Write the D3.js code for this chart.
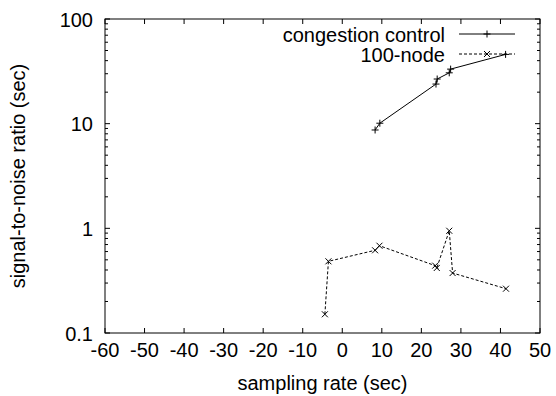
<!DOCTYPE html>
<html>
<head>
<meta charset="utf-8">
<script src="https://cdn.jsdelivr.net/npm/d3@7"></script>
<style>
  body { margin: 0; background: #fff; }
  text { font-family: "Liberation Sans", Arial, Helvetica, sans-serif; fill: #000; font-size: 20px; }
</style>
</head>
<body>
<div id="content"></div>
<script>
'use strict';

// series
var ccX = [8.3, 9.5, 23.7, 24.0, 27.05, 27.4, 41.3]
var ccY = [8.7, 10.1, 23.9, 26.7, 30.6, 33.2, 45.9]
var nodeX = [-4.4, -3.5, 8.3, 9.4, 23.5, 23.9, 27.05, 27.9, 41.4]
var nodeY = [0.151, 0.484, 0.617, 0.682, 0.44, 0.418, 0.948, 0.374, 0.265]
var seriesNames = ['congestion control', '100-node']
var xTicks = [-60, -50, -40, -30, -20, -10, 0, 10, 20, 30, 40, 50]
var yTicks = [0.1, 1, 10, 100]

var width = 556, height = 396
var margin = { left: 105, right: 16, top: 19, bottom: 63 }

var svg = d3.select('#content').append('svg').attr('width', width).attr('height', height)

var x = d3.scaleLinear().domain([-60, 50]).range([margin.left, width - margin.right])
var y = d3.scaleLog().domain([0.1, 100]).range([height - margin.bottom, margin.top])

var x0 = x.range()[0], x1 = x.range()[1], y0 = y.range()[0], y1 = y.range()[1]

// minor ticks for the log axis
var minor = []
for (var d = 0.1; d < 100; d *= 10) {
    for (var k = 2; k <= 9; k++) minor.push(d * k)
}

var g = svg.append('g').attr('stroke', '#000').attr('stroke-width', 1)

// x ticks, bottom and top, pointing in
xTicks.forEach(function(t) {
    g.append('line').attr('x1', x(t)).attr('x2', x(t)).attr('y1', y0).attr('y2', y0 - 5)
    g.append('line').attr('x1', x(t)).attr('x2', x(t)).attr('y1', y1).attr('y2', y1 + 5)
})
yTicks.forEach(function(t) {
    g.append('line').attr('x1', x0).attr('x2', x0 + 5).attr('y1', y(t)).attr('y2', y(t))
    g.append('line').attr('x1', x1).attr('x2', x1 - 5).attr('y1', y(t)).attr('y2', y(t))
})
minor.forEach(function(t) {
    g.append('line').attr('x1', x0).attr('x2', x0 + 3).attr('y1', y(t)).attr('y2', y(t))
    g.append('line').attr('x1', x1).attr('x2', x1 - 3).attr('y1', y(t)).attr('y2', y(t))
})

svg.append('rect').attr('x', x0).attr('y', y1).attr('width', x1 - x0).attr('height', y0 - y1)
    .attr('fill', 'none').attr('stroke', '#000').attr('stroke-width', 1)

svg.selectAll('.xl').data(xTicks).enter().append('text')
    .attr('x', function(d) { return x(d) }).attr('y', y0 + 24)
    .attr('text-anchor', 'middle')
    .text(function(d) { return d })

svg.selectAll('.yl').data(yTicks).enter().append('text')
    .attr('x', x0 - 12).attr('y', function(d) { return y(d) + 7.5 })
    .attr('text-anchor', 'end')
    .text(function(d) { return d })

svg.append('text').attr('x', (x0 + x1) / 2).attr('y', 390).attr('text-anchor', 'middle')
    .text('sampling rate (sec)')
svg.append('text').attr('transform', 'translate(25,' + ((y0 + y1) / 2) + ') rotate(-90)')
    .attr('text-anchor', 'middle').text('signal-to-noise ratio (sec)')

function plus(sel, px, py) {
    sel.append('path').attr('d', 'M' + (px - 3.5) + ',' + py + 'h7M' + px + ',' + (py - 3.5) + 'v7')
        .attr('stroke', '#000').attr('stroke-width', 1).attr('fill', 'none')
}
function cross(sel, px, py) {
    sel.append('path').attr('d', 'M' + (px - 3) + ',' + (py - 3) + 'l6,6M' + (px - 3) + ',' + (py + 3) + 'l6,-6')
        .attr('stroke', '#000').attr('stroke-width', 1).attr('fill', 'none')
}

var line = d3.line().x(function(d) { return x(d[0]) }).y(function(d) { return y(d[1]) })
var cc = d3.zip(ccX, ccY)
var nd = d3.zip(nodeX, nodeY)

svg.append('path').datum(cc).attr('d', line).attr('fill', 'none').attr('stroke', '#000').attr('stroke-width', 1)
svg.append('path').datum(nd).attr('d', line).attr('fill', 'none').attr('stroke', '#000')
    .attr('stroke-width', 1).attr('stroke-dasharray', '3,2')
cc.forEach(function(d) { plus(svg, x(d[0]), y(d[1])) })
nd.forEach(function(d) { cross(svg, x(d[0]), y(d[1])) })

// legend
var legY = [34, 54]
seriesNames.forEach(function(name, i) {
    svg.append('text').attr('x', 445).attr('y', legY[i] + 7.5).attr('text-anchor', 'end')
        .text(name)
    var l = svg.append('line').attr('x1', 459).attr('x2', 515).attr('y1', legY[i]).attr('y2', legY[i])
        .attr('stroke', '#000').attr('stroke-width', 1)
    if (i == 1) l.attr('stroke-dasharray', '3,2')
    if (i == 0) plus(svg, 487, legY[i])
    else cross(svg, 487, legY[i])
})
</script>
</body>
</html>
